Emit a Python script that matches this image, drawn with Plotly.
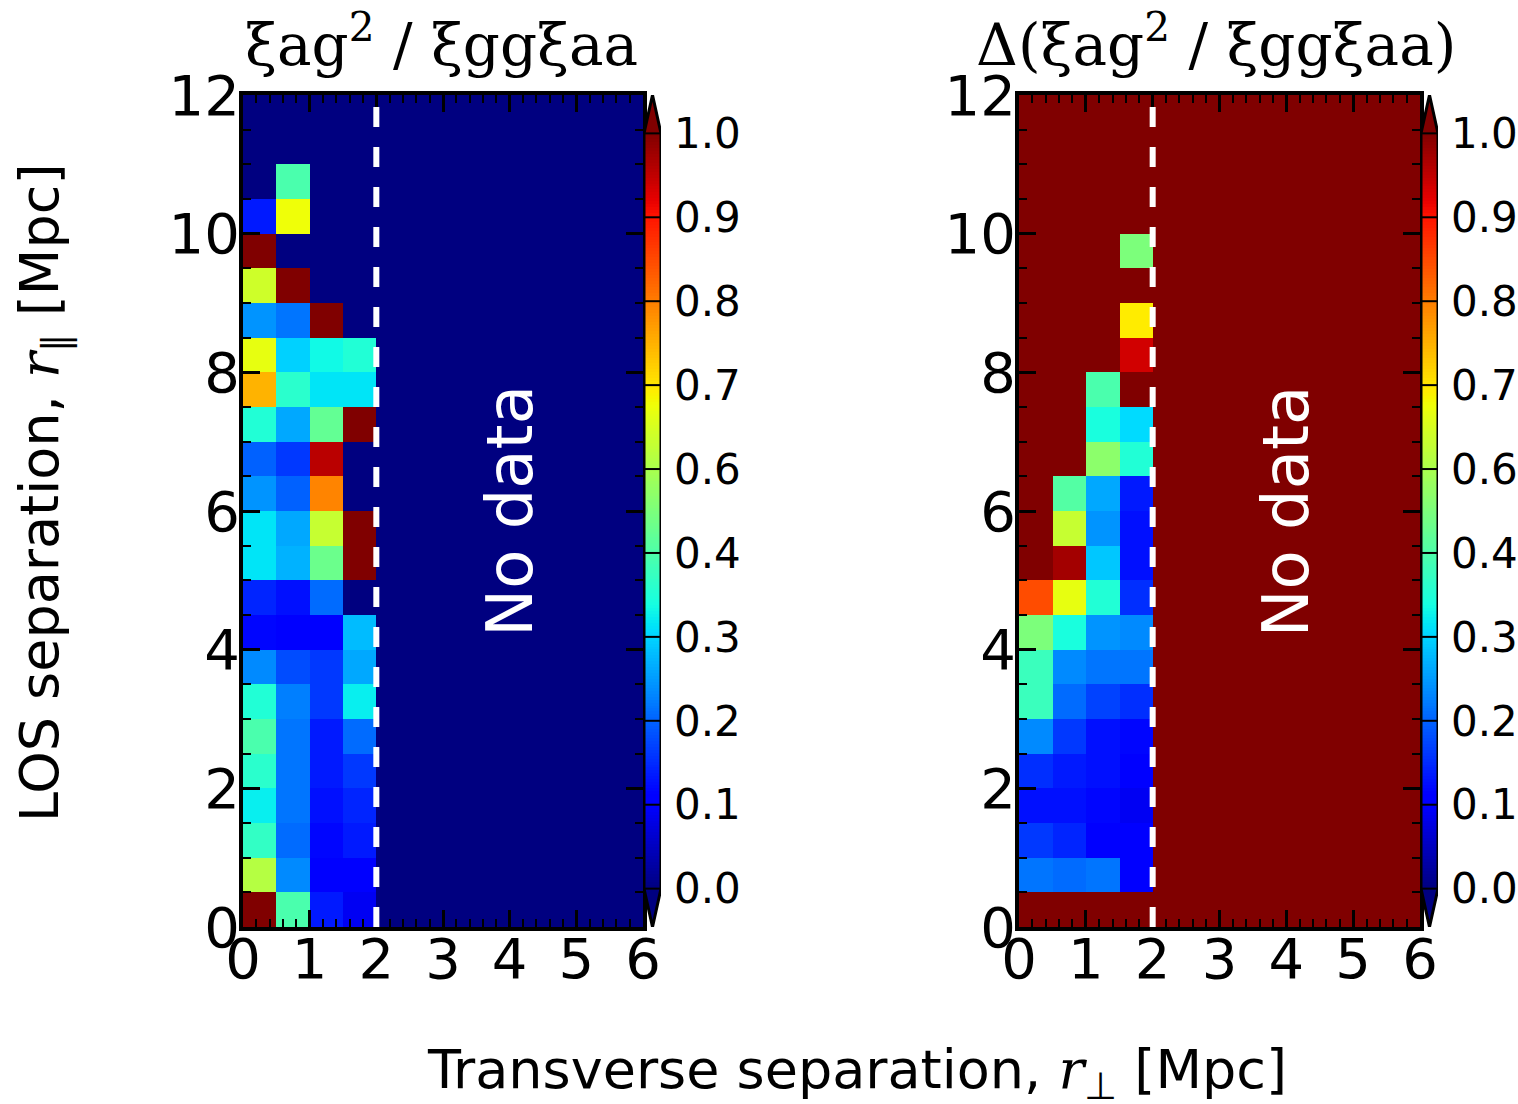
import numpy as np
import plotly.graph_objects as go

# ---------------- data ----------------
# bin edges of the measured grid (r_perp, r_par) in Mpc
x_edges = [0.0, 0.5, 1.0, 1.5, 2.0]
y_edges = [0.5 * i for i in range(25)]

# xi_ag^2 / (xi_gg xi_aa); rows from r_par = 0 (bottom) upward, columns r_perp bins
ratio_vals = [
    [1.00, 0.44, 0.15, 0.10],
    [0.57, 0.26, 0.12, 0.11],
    [0.41, 0.23, 0.13, 0.15],
    [0.36, 0.24, 0.14, 0.16],
    [0.40, 0.24, 0.15, 0.18],
    [0.44, 0.24, 0.15, 0.23],
    [0.39, 0.25, 0.18, 0.36],
    [0.26, 0.20, 0.18, 0.29],
    [0.13, 0.11, 0.12, 0.31],
    [0.16, 0.14, 0.23, None],
    [0.35, 0.30, 0.48, 1.00],
    [0.35, 0.29, 0.59, 1.00],
    [0.27, 0.22, 0.77, None],
    [0.22, 0.18, 0.95, None],
    [0.39, 0.29, 0.47, 1.00],
    [0.72, 0.40, 0.35, 0.35],
    [0.63, 0.33, 0.37, 0.39],
    [0.27, 0.24, 1.00, None],
    [0.60, 1.00, None, None],
    [1.00, None, None, None],
    [0.15, 0.64, None, None],
    [None, 0.44, None, None],
    [None, None, None, None],
    [None, None, None, None],
]

# uncertainty of the ratio
delta_vals = [
    [None, None, None, None],
    [0.24, 0.23, 0.24, 0.11],
    [0.18, 0.16, 0.12, 0.12],
    [0.14, 0.14, 0.13, 0.10],
    [0.17, 0.15, 0.14, 0.12],
    [0.26, 0.18, 0.14, 0.13],
    [0.42, 0.23, 0.19, 0.17],
    [0.42, 0.26, 0.24, 0.24],
    [0.50, 0.38, 0.27, 0.26],
    [0.83, 0.63, 0.39, 0.17],
    [None, 0.97, 0.32, 0.14],
    [None, 0.59, 0.27, 0.14],
    [None, 0.45, 0.29, 0.15],
    [None, None, 0.52, 0.39],
    [None, None, 0.38, 0.34],
    [None, None, 0.44, None],
    [None, None, None, 0.93],
    [None, None, None, 0.66],
    [None, None, None, None],
    [None, None, None, 0.50],
    [None, None, None, None],
    [None, None, None, None],
    [None, None, None, None],
    [None, None, None, None],
]

cbar_ticks = list(np.linspace(0, 1, 10))
cbar_ticktext = [f"{v:.1f}" for v in cbar_ticks]

titles = ["ξag<sup>2</sup> / ξggξaa", "Δ(ξag<sup>2</sup> / ξggξaa)"]
no_data_text = "No data"
x_label = 'Transverse separation, <span style="font-family:DejaVu Serif"><i>r</i></span><sub>⊥</sub> [Mpc]'
y_label = 'LOS separation, <span style="font-family:DejaVu Serif"><i>r</i></span><sub>∥</sub> [Mpc]'
survey_limit = 2.0

# ---------------- jet colormap ----------------
R = [(0, 0), (0.35, 0), (0.66, 1), (0.89, 1), (1, 0.5)]
G = [(0, 0), (0.125, 0), (0.375, 1), (0.64, 1), (0.91, 0), (1, 0)]
B = [(0, 0.5), (0.11, 1), (0.34, 1), (0.65, 0), (1, 0)]


def seg(pts, x):
    return float(np.interp(x, [p[0] for p in pts], [p[1] for p in pts]))


stops = sorted(set([p[0] for p in R + G + B]))
jet = [[s, "rgb(%d,%d,%d)" % (round(255 * seg(R, s)), round(255 * seg(G, s)), round(255 * seg(B, s)))] for s in stops]
NAVY = "rgb(0,0,128)"
DARKRED = "rgb(128,0,0)"

W, H = 1518, 1104


def px_x(p):
    return p / W


def px_y(p):
    return (H - p) / H


ydom = [px_y(927), px_y(95)]
panels = [
    dict(heat=(243, 643), cbar=(644, 661), vals=ratio_vals, bg=NAVY, title=titles[0], tx=441),
    dict(heat=(1019, 1420), cbar=(1421, 1438), vals=delta_vals, bg=DARKRED, title=titles[1], tx=1216),
]

fig = go.Figure()
EXT = 0.0508  # colorbar extension triangle height in colorbar units

tickfont = dict(family="DejaVu Sans", size=56, color="black")
layout = dict(
    width=W, height=H, margin=dict(l=0, r=0, t=0, b=0, autoexpand=False),
    paper_bgcolor="white", plot_bgcolor="white", showlegend=False,
)
shapes = []
annotations = []

for k, p in enumerate(panels):
    hx = "x" if k == 0 else "x%d" % (2 * k + 1)
    hy = "y" if k == 0 else "y%d" % (2 * k + 1)
    cx = "x%d" % (2 * k + 2)
    cy = "y%d" % (2 * k + 2)
    hxk = "xaxis" if k == 0 else "xaxis%d" % (2 * k + 1)
    hyk = "yaxis" if k == 0 else "yaxis%d" % (2 * k + 1)

    fig.add_trace(go.Heatmap(
        x=x_edges, y=y_edges, z=p["vals"], colorscale=jet, zmin=0, zmax=1,
        showscale=False, hoverinfo="skip", xaxis=hx, yaxis=hy,
    ))

    # colorbar body
    cb_edges = np.linspace(0, 1, 257)
    cb_mid = (cb_edges[:-1] + cb_edges[1:]) / 2
    fig.add_trace(go.Heatmap(
        x=[0, 1], y=cb_edges, z=[[v] for v in cb_mid], colorscale=jet, zmin=0, zmax=1,
        showscale=False, hoverinfo="skip", xaxis=cx, yaxis=cy,
    ))
    fig.add_trace(go.Scatter(x=[0, 0.5, 1, 0], y=[1, 1 + EXT, 1, 1], fill="toself", fillcolor=DARKRED,
                             mode="lines", line=dict(width=0), hoverinfo="skip", xaxis=cx, yaxis=cy))
    fig.add_trace(go.Scatter(x=[0, 0.5, 1, 0], y=[0, -EXT, 0, 0], fill="toself", fillcolor=NAVY,
                             mode="lines", line=dict(width=0), hoverinfo="skip", xaxis=cx, yaxis=cy))
    fig.add_trace(go.Scatter(x=[0, 0, 0.5, 1, 1, 0.5, 0], y=[0, 1, 1 + EXT, 1, 0, -EXT, 0],
                             mode="lines", line=dict(color="black", width=3), hoverinfo="skip",
                             xaxis=cx, yaxis=cy))
    for t in cbar_ticks:
        shapes.append(dict(type="line", xref=cx, yref=cy, x0=0, x1=1, y0=t, y1=t,
                           line=dict(color="black", width=2), layer="above"))

    # no-data background and survey limit
    shapes.append(dict(type="rect", xref=hx, yref=hy, x0=0, x1=6, y0=0, y1=12,
                       fillcolor=p["bg"], line=dict(width=0), layer="below"))
    shapes.append(dict(type="line", xref=hx, yref=hy, x0=survey_limit, x1=survey_limit, y0=0, y1=12,
                       line=dict(color="white", width=6, dash="20px,20px"), layer="above"))

    annotations.append(dict(xref=hx, yref=hy, x=4, y=6, text=no_data_text, textangle=-90,
                            showarrow=False, font=dict(family="DejaVu Sans", size=64, color="white")))
    annotations.append(dict(xref="paper", yref="paper", x=px_x(p["tx"]),
                            y=px_y(41), yanchor="middle", xanchor="center", text=p["title"], showarrow=False,
                            font=dict(family="DejaVu Serif", size=58, color="black")))

    common = dict(showgrid=False, zeroline=False, showline=True, linecolor="black", linewidth=4,
                  mirror="allticks", ticks="inside", ticklen=17, tickwidth=2.5, tickcolor="black",
                  tickfont=tickfont, automargin=False)
    layout[hxk] = dict(common, domain=[px_x(p["heat"][0]), px_x(p["heat"][1])], anchor=hy,
                       range=[0, 6], tick0=0, dtick=1, ticklabelstandoff=-20,
                       minor=dict(ticks="inside", ticklen=8, tickwidth=2, tickcolor="black", dtick=0.2))
    layout[hyk] = dict(common, domain=ydom, anchor=hx, range=[0, 12], tick0=0, dtick=2,
                       ticklabelstandoff=-12,
                       minor=dict(ticks="inside", ticklen=8, tickwidth=2, tickcolor="black", dtick=0.5))
    layout["xaxis%d" % (2 * k + 2)] = dict(domain=[px_x(p["cbar"][0]), px_x(p["cbar"][1])], anchor=cy,
                                          range=[0, 1], visible=False, fixedrange=True, automargin=False)
    layout["yaxis%d" % (2 * k + 2)] = dict(domain=ydom, anchor=cx, range=[-EXT, 1 + EXT], side="right",
                                          tickvals=cbar_ticks, ticktext=cbar_ticktext, ticks="",
                                          showgrid=False, zeroline=False, showline=False,
                                          ticklabelstandoff=12, automargin=False,
                                          tickfont=dict(family="DejaVu Sans", size=42, color="black"))

annotations.append(dict(xref="paper", yref="paper", x=px_x(6), y=px_y(493), text=y_label, textangle=-90,
                        showarrow=False, font=dict(family="DejaVu Sans", size=54, color="black")))
annotations.append(dict(xref="paper", yref="paper", x=px_x(857), y=px_y(1110), text=x_label,
                        showarrow=False, font=dict(family="DejaVu Sans", size=54, color="black")))

layout["shapes"] = shapes
layout["annotations"] = annotations
fig.update_layout(**layout)
fig.write_html("out.html")
